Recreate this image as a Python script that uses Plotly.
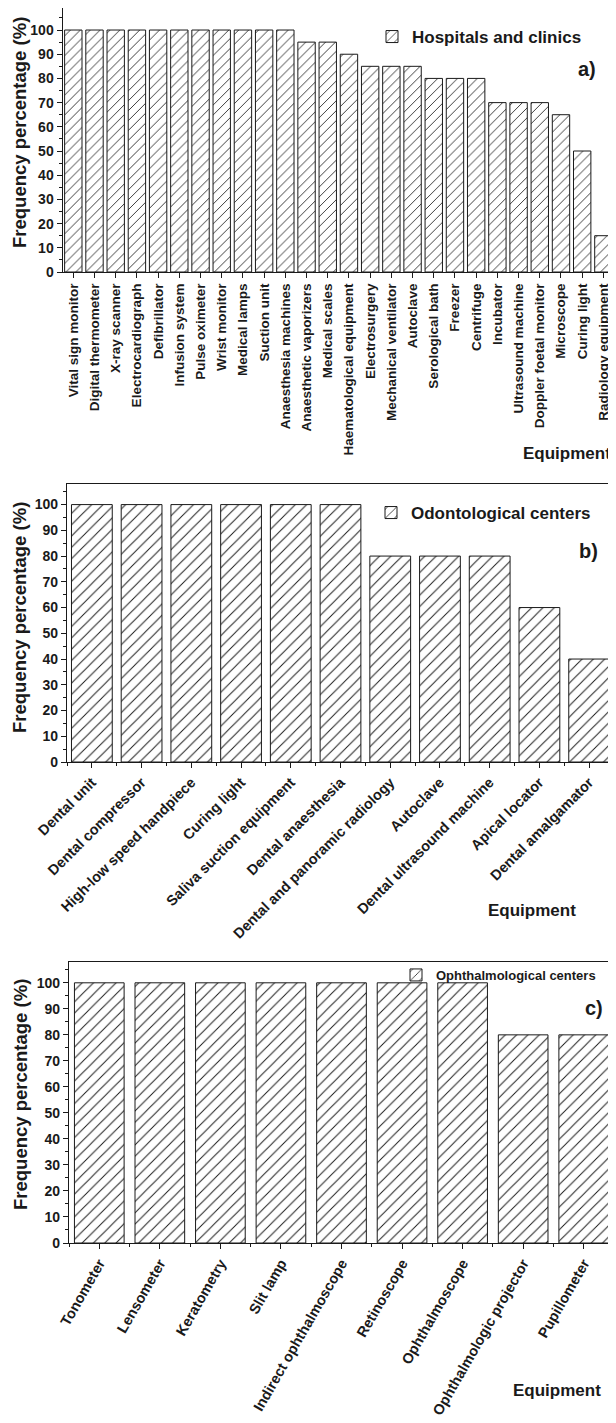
import plotly.graph_objects as go

# a) hospitals and clinics
hosp_equipment = [
    'Vital sign monitor', 'Digital thermometer', 'X-ray scanner', 'Electrocardiograph',
    'Defibrillator', 'Infusion system', 'Pulse oximeter', 'Wrist monitor', 'Medical lamps',
    'Suction unit', 'Anaesthesia machines', 'Anaesthetic vaporizers', 'Medical scales',
    'Haematological equipment', 'Electrosurgery', 'Mechanical ventilator', 'Autoclave',
    'Serological bath', 'Freezer', 'Centrifuge', 'Incubator', 'Ultrasound machine',
    'Doppler foetal monitor', 'Microscope', 'Curing light', 'Radiology equipment',
]
hosp_freq = [100, 100, 100, 100, 100, 100, 100, 100, 100, 100, 100, 95, 95, 90,
             85, 85, 85, 80, 80, 80, 70, 70, 70, 65, 50, 15]

# b) odontological centers
odont_equipment = [
    'Dental unit', 'Dental compressor', 'High-low speed handpiece', 'Curing light',
    'Saliva suction equipment', 'Dental anaesthesia', 'Dental and panoramic radiology',
    'Autoclave', 'Dental ultrasound machine', 'Apical locator', 'Dental amalgamator',
]
odont_freq = [100, 100, 100, 100, 100, 100, 80, 80, 80, 60, 40]

# c) ophthalmological centers
ophth_equipment = [
    'Tonometer', 'Lensometer', 'Keratometry', 'Slit lamp', 'Indirect ophthalmoscope',
    'Retinoscope', 'Ophthalmoscope', 'Ophthalmologic projector', 'Pupillometer',
]
ophth_freq = [100, 100, 100, 100, 100, 100, 100, 80, 80]

# the page body adds an 8px margin, so the figure is a bit smaller than the window
OFF = 8
W, H = 616 - OFF, 1423 - OFF
FONT = 'Liberation Sans'
INK = '#1a1a1a'


def px_x(x):
    return min(1.0, max(0.0, (x - OFF) / W))


def px_y(y):
    return min(1.0, max(0.0, 1 - (y - OFF) / H))


panels = [
    dict(name='Hospitals and clinics', cats=hosp_equipment, vals=hosp_freq,
         xd=(62.7, 614), yd=(8, 272), ymax=109.1, angle=-90, hatch=7, lfont=17,
         tfont=13.5, minor_x=False, letter='a)'),
    dict(name='Odontological centers', cats=odont_equipment, vals=odont_freq,
         xd=(67, 614), yd=(484, 762), ymax=108, angle=-45, hatch=8, lfont=17,
         tfont=14.5, minor_x=True, letter='b)'),
    dict(name='Ophthalmological centers', cats=ophth_equipment, vals=ophth_freq,
         xd=(69, 614), yd=(962, 1243), ymax=108, angle=-60, hatch=8, lfont=13,
         tfont=14.5, minor_x=True, letter='c)'),
]

fig = go.Figure()
layout = dict(template='none', width=W, height=H, showlegend=True,
              margin=dict(l=0, r=0, t=0, b=0, pad=0, autoexpand=False),
              paper_bgcolor='white', plot_bgcolor='white',
              font=dict(family=FONT, color=INK, weight='bold'), annotations=[])

for i, p in enumerate(panels):
    k = '' if i == 0 else str(i + 1)
    idx = list(range(len(p['cats'])))
    fig.add_trace(go.Bar(
        x=idx, y=p['vals'], name=p['name'], width=0.82, showlegend=True,
        xaxis='x' + k, yaxis='y' + k, legend='legend' + k,
        marker=dict(color='white', line=dict(color=INK, width=1),
                    pattern=dict(shape='/', fgcolor=INK, bgcolor='white',
                                 size=p['hatch'], solidity=0.12)),
        hoverinfo='x+y',
    ))
    xa = dict(domain=[px_x(p['xd'][0]), px_x(p['xd'][1])], anchor='y' + k,
              range=[-0.5, len(idx) - 0.5], tickmode='array', tickvals=idx,
              ticktext=p['cats'], tickangle=p['angle'], ticks='outside', ticklen=5,
              tickwidth=1.2, tickcolor=INK, showline=True, linecolor=INK, linewidth=1.4,
              mirror=True, showgrid=False, zeroline=False, automargin=False,
              tickfont=dict(size=p['tfont'], family=FONT, weight='bold', color=INK))
    if p['minor_x']:
        xa['minor'] = dict(tick0=0.5, dtick=1, ticks='outside', ticklen=3,
                           tickcolor=INK, tickwidth=1.2)
    ya = dict(domain=[px_y(p['yd'][1]), px_y(p['yd'][0])], anchor='x' + k,
              range=[0, p['ymax']], tick0=0, dtick=10, ticks='outside', ticklen=5,
              tickwidth=1.2, tickcolor=INK, showline=True, linecolor=INK, linewidth=1.4,
              mirror=True, showgrid=False, zeroline=False, automargin=False,
              minor=dict(tick0=0, dtick=5, ticks='outside', ticklen=3, tickcolor=INK,
                         tickwidth=1.2),
              tickfont=dict(size=14, family=FONT, weight='bold', color=INK))
    layout['xaxis' + k] = xa
    layout['yaxis' + k] = ya

# legends (one per panel)
legend_pos = [(372, 37), (371, 513), (396, 975)]
for i, (lx, ly) in enumerate(legend_pos):
    k = '' if i == 0 else str(i + 1)
    layout['legend' + k] = dict(x=px_x(lx), y=px_y(ly), xanchor='left', yanchor='middle',
                                bgcolor='rgba(0,0,0,0)', borderwidth=0, visible=True,
                                font=dict(size=panels[i]['lfont'], family=FONT,
                                          weight='bold', color=INK))

# y titles, x titles, panel letters
ytitle_pos = [(20, 133), (20, 618), (20, 1095)]
xtitle_pos = [(613, 453), (578, 910), (603, 1390)]
letter_pos = [(587, 69), (588, 551), (594, 1008)]
for i, p in enumerate(panels):
    layout['annotations'].append(dict(
        text='Frequency percentage (%)', textangle=-90, xref='paper', yref='paper',
        x=px_x(ytitle_pos[i][0]), y=px_y(ytitle_pos[i][1]), xanchor='center',
        yanchor='middle', showarrow=False,
        font=dict(size=18.5, family=FONT, weight='bold', color=INK)))
    layout['annotations'].append(dict(
        text='Equipment', xref='paper', yref='paper',
        x=px_x(xtitle_pos[i][0]), y=px_y(xtitle_pos[i][1]), xanchor='right',
        yanchor='middle', showarrow=False,
        font=dict(size=17, family=FONT, weight='bold', color=INK)))
    layout['annotations'].append(dict(
        text=p['letter'], xref='paper', yref='paper',
        x=px_x(letter_pos[i][0]), y=px_y(letter_pos[i][1]), xanchor='center',
        yanchor='middle', showarrow=False,
        font=dict(size=20, family=FONT, weight='bold', color=INK)))

fig.update_layout(**layout)
fig.write_html('out.html')
